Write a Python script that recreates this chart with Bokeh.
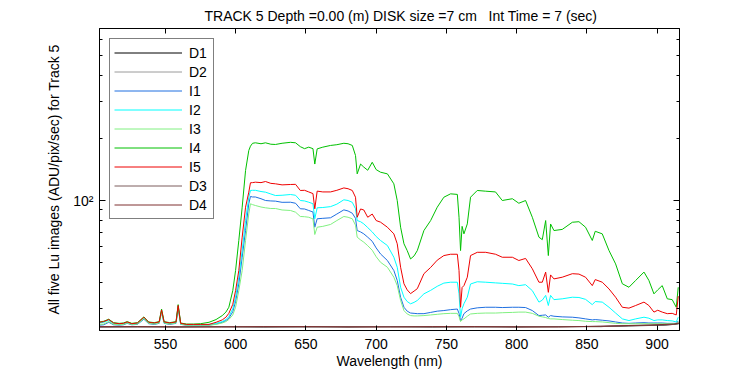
import math
from bokeh.plotting import figure
from bokeh.models import Range1d, FixedTicker, LinearAxis, LogAxis, Legend, LegendItem, Title
from bokeh.embed import file_html
from bokeh.resources import INLINE

# ---------------- data ----------------
wl = [503, 506, 509.6, 513, 517, 520, 522.7, 526, 530, 534.6,
      538, 542, 545.5, 547.2, 549, 553, 557.5, 559, 560.8, 565,
      570, 575, 581, 586, 590.4, 593, 595.1, 597.9, 599.9, 602.2,
      604.6, 607, 609.3, 610.5, 612, 614, 618, 621.2, 625, 628.3,
      633, 639, 642.6, 646, 649, 652, 655, 656.3, 658, 662,
      667.5, 672, 677, 680, 683, 685.3, 686.5, 688.9, 691.2, 694,
      697.2, 700, 703.1, 708, 712.6, 715, 717.4, 719.8, 722.1, 724.5,
      727, 729.3, 734, 738.8, 743.5, 748.2, 753, 757.8, 759, 760.1,
      761.2, 762.5, 764.9, 767.2, 772, 778, 785, 789.8, 797, 801.6,
      806.4, 811.2, 815.9, 818.3, 820.7, 822.6, 824.2, 826.6, 832.5, 839.7,
      844.4, 849.1, 853.9, 856, 861, 865.8, 870.5, 875.3, 880, 884.8,
      890.7, 894.2, 897.8, 900.5, 903.7, 907.3, 910.8, 913.7, 915.1]

i1 = [25.0, 25.1, 25.8, 25.1, 25.0, 25.1, 25.5, 25.1, 25.2, 26.7,
      25.4, 25.2, 25.5, 28.9, 25.5, 25.2, 25.5, 30.3, 25.2, 25.0,
      25.0, 25.0, 25.0, 25.3, 25.8, 26.3, 27.0, 29.0, 32.5, 39.5,
      53.2, 71.6, 96.4, 104.6, 104.0, 104.0, 102.0, 100.0, 99.5, 99.3,
      98.0, 98.1, 97.0, 91.2, 91.0, 89.5, 88.0, 74.3, 81.6, 82.0,
      82.5, 86.0, 90.1, 89.0, 86.8, 82.0, 71.6, 70.5, 69.0, 66.5,
      63.5, 59.0, 55.2, 51.3, 45.9, 41.1, 34.1, 30.5, 29.2, 28.6,
      28.5, 28.4, 28.4, 28.8, 29.2, 29.4, 29.7, 29.9, 28.5, 26.3,
      27.0, 28.4, 29.3, 29.9, 30.3, 30.5, 30.5, 30.4, 30.5, 30.5,
      30.4, 29.4, 27.8, 27.9, 28.0, 27.3, 27.8, 27.6, 27.4, 27.3,
      27.1, 26.8, 26.5, 26.6, 26.4, 26.2, 25.9, 25.6, 25.5, 25.6,
      25.7, 25.6, 25.6, 25.6, 25.6, 25.5, 25.5, 25.5, 26.2]

i2 = [25.6, 25.8, 26.4, 25.4, 25.2, 25.3, 25.7, 25.3, 25.4, 27.0,
      25.6, 25.4, 25.7, 29.3, 25.7, 25.4, 25.7, 30.8, 25.3, 25.1,
      25.1, 25.1, 25.2, 25.5, 26.0, 26.6, 27.5, 30.0, 34.1, 42.6,
      57.3, 80.0, 103.7, 111.8, 112.0, 112.0, 110.5, 109.7, 107.5, 105.7,
      106.0, 106.9, 106.0, 100.0, 99.5, 98.1, 96.5, 81.6, 92.2, 92.5,
      93.4, 96.0, 100.8, 100.0, 98.0, 91.2, 80.0, 79.0, 77.1, 74.0,
      70.5, 67.0, 64.1, 60.6, 53.2, 47.6, 38.1, 34.1, 32.5, 31.7,
      32.2, 32.9, 35.4, 36.8, 38.5, 39.9, 40.3, 40.3, 35.4, 27.3,
      30.0, 31.7, 34.1, 39.5, 40.5, 40.3, 40.0, 39.8, 39.5, 38.8,
      39.2, 36.7, 32.3, 33.0, 34.8, 31.1, 34.8, 33.2, 33.5, 34.1,
      34.0, 33.3, 31.4, 32.5, 32.3, 30.5, 28.6, 26.8, 26.3, 26.8,
      27.3, 27.0, 26.3, 26.5, 26.5, 26.3, 26.2, 25.9, 27.3]

i3 = [25.2, 25.3, 26.0, 25.2, 25.1, 25.2, 25.6, 25.2, 25.3, 26.9,
      25.5, 25.3, 25.6, 29.1, 25.6, 25.3, 25.6, 30.6, 25.3, 25.0,
      25.0, 25.0, 25.0, 25.2, 25.6, 26.0, 26.6, 28.0, 30.5, 36.7,
      45.9, 64.1, 86.2, 96.4, 95.5, 94.6, 93.0, 92.2, 91.5, 91.5,
      90.0, 89.5, 87.8, 83.7, 83.5, 83.0, 81.5, 68.5, 74.3, 75.0,
      76.6, 80.0, 83.7, 83.0, 81.6, 76.0, 66.5, 64.5, 62.9, 60.5,
      57.5, 53.5, 50.3, 47.6, 42.6, 38.8, 32.9, 29.4, 28.3, 27.8,
      27.7, 27.7, 27.8, 28.0, 28.2, 28.4, 28.5, 28.5, 27.5, 26.0,
      26.5, 26.8, 27.6, 28.3, 28.5, 28.6, 28.6, 28.7, 28.8, 28.9,
      28.9, 28.5, 27.6, 27.4, 27.2, 26.9, 26.8, 26.8, 26.6, 26.4,
      26.3, 26.1, 26.0, 26.0, 25.9, 25.7, 25.5, 25.4, 25.4, 25.4,
      25.4, 25.4, 25.4, 25.4, 25.4, 25.4, 25.4, 25.4, 26.0]

i4 = [25.9, 26.1, 26.7, 25.7, 25.5, 25.6, 26.0, 25.5, 25.7, 27.4,
      25.9, 25.7, 26.0, 29.9, 26.0, 25.7, 26.0, 31.4, 25.6, 25.3,
      25.3, 25.4, 25.8, 26.6, 27.8, 28.9, 30.5, 36.7, 45.9, 64.1,
      92.8, 139.6, 174.4, 183.0, 189.0, 190.0, 188.0, 190.0, 187.0, 186.5,
      189.0, 191.0, 190.0, 182.0, 178.0, 181.0, 178.0, 150.0, 177.6, 181.0,
      184.5, 186.0, 189.0, 188.0, 184.5, 165.0, 134.5, 150.0, 145.0, 140.0,
      153.0, 141.0, 137.0, 134.5, 120.4, 100.0, 74.3, 61.8, 57.3, 52.2,
      54.0, 57.3, 71.6, 80.0, 92.8, 103.7, 107.7, 107.0, 83.0, 57.3,
      75.0, 69.0, 77.1, 103.7, 111.8, 110.9, 110.0, 100.0, 102.0, 97.0,
      100.0, 83.0, 66.5, 64.7, 80.0, 54.2, 77.0, 71.6, 72.5, 78.5,
      79.0, 74.3, 64.1, 71.0, 69.0, 57.3, 49.4, 39.6, 38.1, 41.1,
      45.1, 41.1, 35.4, 37.0, 38.8, 33.5, 33.2, 30.5, 38.1]

i5 = [25.8, 26.0, 26.6, 25.6, 25.4, 25.5, 25.9, 25.4, 25.6, 27.3,
      25.8, 25.6, 25.9, 29.6, 25.9, 25.6, 25.9, 31.1, 25.5, 25.2,
      25.2, 25.2, 25.2, 25.8, 26.5, 27.3, 28.5, 31.5, 36.7, 45.9,
      66.5, 92.8, 109.7, 121.8, 122.0, 122.6, 122.0, 123.5, 121.0, 120.4,
      119.0, 119.5, 119.7, 111.8, 112.0, 110.0, 108.0, 91.2, 111.0, 110.0,
      110.0, 112.0, 115.0, 114.0, 111.8, 103.7, 83.0, 91.0, 90.0, 83.0,
      86.0, 80.0, 78.6, 74.3, 69.0, 61.8, 47.6, 39.6, 37.0, 35.5,
      36.5, 37.5, 44.3, 47.5, 51.5, 54.2, 55.0, 55.0, 45.9, 30.5,
      38.0, 38.8, 42.6, 54.2, 56.2, 56.2, 55.0, 53.2, 53.2, 51.3,
      52.5, 46.8, 40.3, 40.3, 45.1, 36.0, 43.7, 41.8, 42.6, 44.3,
      44.1, 42.6, 38.8, 41.5, 40.3, 37.4, 34.1, 30.5, 30.2, 31.1,
      32.3, 31.1, 28.9, 29.5, 28.9, 28.4, 28.5, 28.0, 34.5]

dwl = [503, 530, 560, 590, 620, 650, 680, 710, 740, 770, 800, 830, 860, 880, 895, 905, 912, 915.5]
d1 = [24.5, 24.6, 24.5, 24.6, 24.5, 24.6, 24.5, 24.6, 24.5, 24.6, 24.5, 24.6, 24.6, 24.8, 24.9, 25.0, 25.2, 25.4]
d2 = [24.6, 24.5, 24.6, 24.5, 24.6, 24.5, 24.6, 24.5, 24.6, 24.5, 24.6, 24.5, 24.7, 24.9, 25.0, 25.1, 25.3, 25.6]
d3 = [24.5, 24.5, 24.6, 24.6, 24.5, 24.5, 24.6, 24.6, 24.5, 24.5, 24.6, 24.6, 24.6, 24.8, 25.0, 25.1, 25.2, 25.5]
d4 = [24.6, 24.6, 24.5, 24.5, 24.6, 24.6, 24.5, 24.5, 24.6, 24.6, 24.5, 24.5, 24.7, 24.9, 25.0, 25.2, 25.3, 25.6]

x_ticks = [550, 600, 650, 700, 750, 800, 850, 900]
y_major = [100]
y_major_label = {100: "10\u00b2"}
y_minor = [30, 40, 50, 60, 70, 80, 90, 200, 300, 400, 500, 600]

names = ["D1", "D2", "I1", "I2", "I3", "I4", "I5", "D3", "D4"]
colors = ["#000000", "#9a9a9a", "#1f6fe0", "#00ffff", "#80f080", "#00c000", "#ee0000", "#7c5c5c", "#7f3030"]

# three spaces between "cm" and "Int" kept visible with no-break spaces
title_text = "TRACK 5 Depth =0.00 (m) DISK size =7 cm\u00a0\u00a0\u00a0Int Time = 7 (sec)"
xlabel_text = "Wavelength (nm)"
ylabel_text = "All five Lu images (ADU/pix/sec) for Track 5"

FONT = "Liberation Sans"
FS = "14px"

# ---------------- figure ----------------
p = figure(width=750, height=375, output_backend="svg", toolbar_location=None,
           y_axis_type="log",
           x_range=Range1d(503, 916), y_range=Range1d(23.55, 677.5),
           min_border_left=99, min_border_right=71, min_border_top=28, min_border_bottom=45)
p.title = Title(text=title_text, align="left", offset=105, standoff=9,
                text_font=FONT, text_font_size=FS, text_font_style="normal", text_color="black")
p.background_fill_color = "white"
p.border_fill_color = "white"
p.outline_line_color = "black"
p.outline_line_width = 1
p.xgrid.visible = False
p.ygrid.visible = False

def style_x(ax, labels=True):
    ax.ticker = FixedTicker(ticks=x_ticks, minor_ticks=[])
    ax.major_tick_in = 5
    ax.major_tick_out = 0
    ax.minor_tick_in = 0
    ax.minor_tick_out = 0
    ax.axis_line_color = "black"
    ax.major_tick_line_color = "black"
    ax.major_label_text_font = FONT
    ax.major_label_text_color = "black"
    if labels:
        ax.major_label_text_font_size = FS
        ax.major_label_standoff = 8
    else:
        ax.major_label_text_font_size = "1px"
        ax.major_label_text_alpha = 0.0
        ax.major_label_standoff = 0

def style_y(ax, labels=True):
    ax.ticker = FixedTicker(ticks=y_major, minor_ticks=y_minor)
    ax.major_tick_in = 6
    ax.major_tick_out = 0
    ax.minor_tick_in = 3
    ax.minor_tick_out = 0
    ax.axis_line_color = "black"
    ax.major_tick_line_color = "black"
    ax.minor_tick_line_color = "black"
    ax.major_label_text_font = FONT
    ax.major_label_text_color = "black"
    if labels:
        ax.major_label_overrides = y_major_label
        ax.major_label_text_font_size = FS
        ax.major_label_standoff = 6
    else:
        ax.major_label_text_font_size = "1px"
        ax.major_label_text_alpha = 0.0
        ax.major_label_standoff = 0

xa = p.xaxis[0]
style_x(xa)
xa.axis_label = xlabel_text
xa.axis_label_text_font = FONT
xa.axis_label_text_font_size = FS
xa.axis_label_text_font_style = "normal"
xa.axis_label_text_color = "black"
xa.axis_label_standoff = 1

ya = p.yaxis[0]
style_y(ya)
ya.axis_label = ylabel_text
ya.axis_label_text_font = FONT
ya.axis_label_text_font_size = FS
ya.axis_label_text_font_style = "normal"
ya.axis_label_text_color = "black"
ya.axis_label_standoff = 8

top_ax = LinearAxis()
style_x(top_ax, labels=False)
p.add_layout(top_ax, "above")
right_ax = LogAxis()
style_y(right_ax, labels=False)
p.add_layout(right_ax, "right")

series = {"D1": (dwl, d1), "D2": (dwl, d2), "I1": (wl, i1), "I2": (wl, i2), "I3": (wl, i3),
          "I4": (wl, i4), "I5": (wl, i5), "D3": (dwl, d3), "D4": (dwl, d4)}
items = []
for name, col in zip(names, colors):
    xs, ys = series[name]
    r = p.line(xs, ys, line_color=col, line_width=1)
    items.append(LegendItem(label=name, renderers=[r]))

legend = Legend(items=items, location="top_left", margin=10, padding=4, spacing=0,
                glyph_width=68, glyph_height=19, label_height=19, label_standoff=7,
                border_line_color="black", border_line_width=1,
                background_fill_color="white", background_fill_alpha=1.0,
                label_text_font=FONT, label_text_font_size=FS, label_text_color="black")
p.add_layout(legend)

open("out.html", "w").write(file_html(p, INLINE))
